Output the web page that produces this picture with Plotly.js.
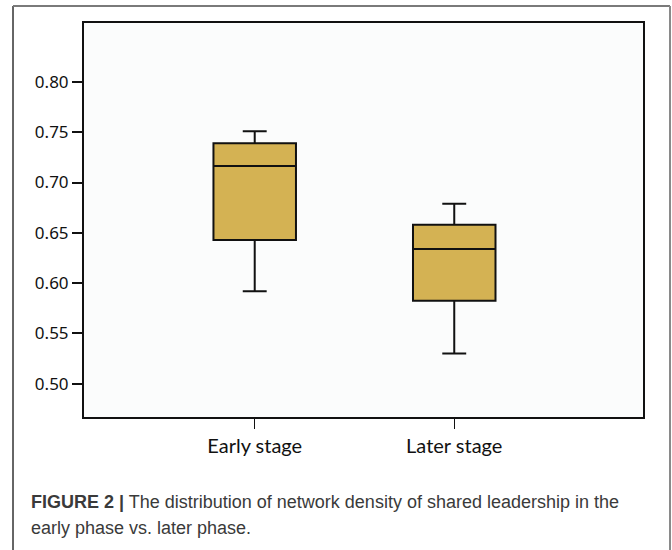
<!DOCTYPE html>
<html>
<head>
<meta charset="utf-8">
<script src="https://cdn.plot.ly/plotly-3.0.1.min.js"></script>
<style>
  html, body { margin: 0; padding: 0; background: #ffffff; }
  #chart { width: 672px; height: 550px; }
</style>
</head>
<body>
<div id="chart"></div>
<script>
// ---- data ----
var categories = ["Early stage", "Later stage"];
var lowerWhisker = [0.592, 0.530];
var q1Values     = [0.643, 0.5825];
var medianValues = [0.7165, 0.634];
var q3Values     = [0.739, 0.658];
var upperWhisker = [0.751, 0.679];
var yTickValues  = [0.50, 0.55, 0.60, 0.65, 0.70, 0.75, 0.80];
var yTickLabels  = ["0.50", "0.55", "0.60", "0.65", "0.70", "0.75", "0.80"];
var captionBold  = "FIGURE 2 |";
var captionLine1 = " The distribution of network density of shared leadership in the";
var captionLine2 = "early phase vs. later phase.";

var trace = {
  type: "box",
  x: categories,
  q1: q1Values,
  median: medianValues,
  q3: q3Values,
  lowerfence: lowerWhisker,
  upperfence: upperWhisker,
  boxpoints: false,
  width: 0.4135,
  whiskerwidth: 0.29,
  fillcolor: "#D4B253",
  line: { color: "#111111", width: 2 },
  hoverinfo: "skip",
  showlegend: false
};

var layout = {
  width: 672,
  height: 550,
  margin: { l: 84, r: 29, t: 23, b: 133, pad: 0 },
  paper_bgcolor: "#ffffff",
  plot_bgcolor: "#FBFCFC",
  showlegend: false,
  xaxis: {
    type: "category",
    range: [-0.8556, 1.946],
    showgrid: false,
    zeroline: false,
    showline: true,
    mirror: true,
    linecolor: "#111111",
    linewidth: 2,
    ticks: "outside",
    ticklen: 10,
    tickwidth: 1.5,
    tickcolor: "#111111",
    tickfont: { family: "Lato, 'Open Sans', sans-serif", size: 20, color: "#111111" },
    fixedrange: true
  },
  yaxis: {
    range: [0.467, 0.8585],
    tickmode: "array",
    tickvals: yTickValues,
    ticktext: yTickLabels,
    showgrid: false,
    zeroline: false,
    showline: true,
    mirror: true,
    linecolor: "#111111",
    linewidth: 2,
    ticks: "outside",
    ticklen: 10,
    tickwidth: 2,
    tickcolor: "#111111",
    tickfont: { family: "'Noto Sans', 'Open Sans', sans-serif", size: 17, color: "#111111" },
    fixedrange: true
  },
  shapes: [
    { type: "line", xref: "paper", yref: "paper", x0: -0.127, x1: -0.127, y0: 1.0432, y1: -0.4, line: { color: "#333333", width: 1.5 } },
    { type: "line", xref: "paper", yref: "paper", x0: -0.127, x1: 1.0483, y0: 1.0432, y1: 1.0432, line: { color: "#7a7a7a", width: 2 } },
    { type: "line", xref: "paper", yref: "paper", x0: 1.0483, x1: 1.0483, y0: 1.0432, y1: -0.4, line: { color: "#8a8a8a", width: 2 } }
  ],
  annotations: [
    {
      xref: "paper", yref: "paper", x: -0.0984, y: -0.1855,
      xanchor: "left", yanchor: "top", showarrow: false, align: "left",
      text: "<b>" + captionBold + "</b>" + captionLine1,
      font: { family: "'Liberation Sans', Arial, sans-serif", size: 18, color: "#3a3a3a" }
    },
    {
      xref: "paper", yref: "paper", x: -0.0984, y: -0.2516,
      xanchor: "left", yanchor: "top", showarrow: false, align: "left",
      text: captionLine2,
      font: { family: "'Liberation Sans', Arial, sans-serif", size: 18, color: "#3a3a3a" }
    }
  ]
};

Plotly.newPlot("chart", [trace], layout, { displayModeBar: false, staticPlot: true });
</script>
</body>
</html>
